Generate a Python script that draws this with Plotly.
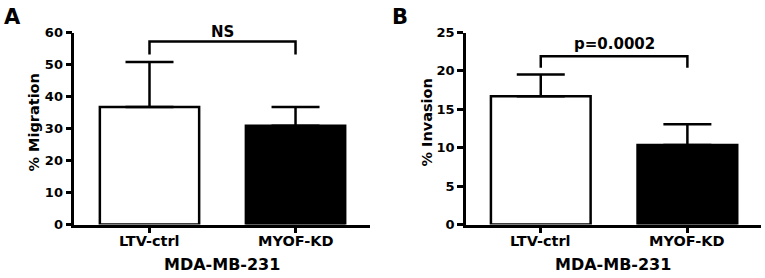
import plotly.graph_objects as go

categories = ["LTV-ctrl", "MYOF-KD"]
migration_mean = [36.7, 30.9]
migration_err = [14.1, 5.8]
invasion_mean = [16.7, 10.35]
invasion_err = [2.85, 2.7]
bar_colors = ["white", "black"]
migration_ticks = [0, 10, 20, 30, 40, 50, 60]
invasion_ticks = [0, 5, 10, 15, 20, 25]
bracket_a = [53.1, 57.2]
bracket_b = [20.4, 21.9]
label_a = "NS"
label_b = "p=0.0002"

FONT = "DejaVu Sans"
W, H = 765, 278

# the captured page shows a slight vertical squeeze; compensate pixel targets
def ty(px):
    return (px - 5.2) / 0.956

def py(px):
    return (H - ty(px)) / H

def py_raw(t):
    return (H - t) / H

def px_x(px):
    return px / W

def f(size):
    return dict(family=FONT, size=size, color="black", weight="bold")

fig = go.Figure()

for xa, ya, means, errs in [("x", "y", migration_mean, migration_err),
                            ("x2", "y2", invasion_mean, invasion_err)]:
    fig.add_trace(go.Bar(
        x=categories, y=means, xaxis=xa, yaxis=ya, width=0.68,
        marker=dict(color=bar_colors, line=dict(color="black", width=2.5)),
        error_y=dict(type="data", symmetric=False, array=errs,
                     arrayminus=[0, 0], color="black", thickness=2.5, width=24),
        showlegend=False, hoverinfo="skip"))

for xa, ya, br in [("x", "y", bracket_a), ("x2", "y2", bracket_b)]:
    fig.add_trace(go.Scatter(
        x=[categories[0], categories[0], categories[1], categories[1]],
        y=[br[0], br[1], br[1], br[0]], xaxis=xa, yaxis=ya, mode="lines",
        line=dict(color="black", width=2.5), showlegend=False,
        hoverinfo="skip", cliponaxis=False))

ydom = [py(225), py(31)]
common_x = dict(type="category", showline=True, linecolor="black", linewidth=2.5,
                ticks="outside", ticklen=6, tickwidth=2.5, tickcolor="black",
                showticklabels=False, showgrid=False, zeroline=False, fixedrange=True)
common_y = dict(showline=True, linecolor="black", linewidth=2.5,
                ticks="outside", ticklen=6, tickwidth=2.5, tickcolor="black",
                tickfont=f(13), showgrid=False, zeroline=False, domain=ydom,
                fixedrange=True)

fig.update_layout(
    width=W, height=H, margin=dict(l=0, r=0, t=0, b=0),
    paper_bgcolor="white", plot_bgcolor="white",
    xaxis=dict(common_x, domain=[px_x(74.3), px_x(370)], range=[-0.515, 1.51], anchor="y"),
    yaxis=dict(common_y, range=[0, 60], tickvals=migration_ticks, anchor="x"),
    xaxis2=dict(common_x, domain=[px_x(466), px_x(760.7)], range=[-0.51, 1.50], anchor="y2"),
    yaxis2=dict(common_y, range=[0, 25], tickvals=invasion_ticks, anchor="x2"),
)

def a(text, x, y, xref="paper", yref="paper", size=15, angle=0):
    return dict(text=text, x=x, y=y, xref=xref, yref=yref, xanchor="center",
                yanchor="middle", textangle=angle, showarrow=False, font=f(size))

ann = [
    a("A", px_x(12), py(15.5), size=21),
    a("B", px_x(400), py(15.5), size=21),
    a("% Migration", px_x(34.5), py(122.5), size=14.5, angle=-90),
    a("% Invasion", px_x(427.5), py(122.5), size=14.5, angle=-90),
    a("MDA-MB-231", 0.5, py_raw(272), xref="x domain", size=16),
    a("MDA-MB-231", 0.5, py_raw(272), xref="x2 domain", size=16),
    a(label_a, 0.5, py(30), xref="x", size=15),
    a(label_b, 0.5, py(42.5), xref="x2", size=15),
]
for xr in ["x", "x2"]:
    for c in categories:
        ann.append(a(c, c, py(241.7), xref=xr, size=14.5))
fig.update_layout(annotations=ann)

reset_page = (
    "document.documentElement.style.margin='0';"
    "document.documentElement.style.overflow='hidden';"
    "document.body.style.margin='0';"
    "document.body.style.padding='0';"
    "document.body.style.overflow='hidden';"
    "var d=document.querySelector('.plotly-graph-div');"
    "d.style.position='absolute';d.style.left='0px';d.style.top='0px';"
)

fig.write_html("out.html", post_script=reset_page, config={"displayModeBar": False})
